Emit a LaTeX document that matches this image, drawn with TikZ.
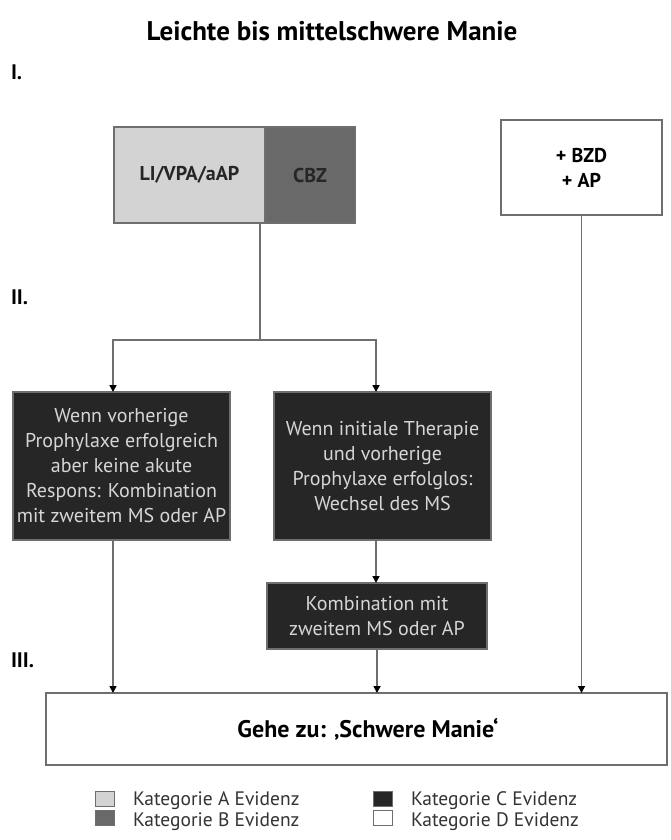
\documentclass[tikz,border=0pt]{standalone}
\usepackage{fontspec}
\setmainfont{PT Sans}
\usetikzlibrary{arrows.meta,calc}
\definecolor{lineg}{HTML}{6E6E6E}
\definecolor{boxA}{HTML}{D3D3D3}
\definecolor{boxB}{HTML}{696969}
\definecolor{boxC}{HTML}{262626}
\definecolor{txtC}{HTML}{D6D6D6}
\begin{document}
\begin{tikzpicture}[x=1pt,y=-1pt,
  every node/.style={inner sep=0pt,outer sep=0pt},
  conn/.style={draw=lineg,line width=1.6pt},
  arr/.style={conn,-{Triangle[length=7pt,width=7pt,fill=black,color=black]}},
  lightbox/.style={draw=lineg,line width=1.6pt,fill=boxA,minimum height=96pt,font=\bfseries\fontsize{20}{24}\selectfont,text=black!85},
  midbox/.style={draw=lineg,line width=1.6pt,fill=boxB,minimum height=96pt,font=\bfseries\fontsize{20}{24}\selectfont,text=black!85},
  whitebox/.style={draw=lineg,line width=1.6pt,fill=white,font=\bfseries\fontsize{20}{25}\selectfont,align=center},
  darkbox/.style={draw=lineg,line width=1.2pt,fill=boxC,text=txtC,align=center,font=\fontsize{20}{25}\selectfont},
  level/.style={font=\bfseries\fontsize{21}{24}\selectfont,anchor=west},
  legsq/.style={draw=lineg,line width=1pt,minimum width=19pt,minimum height=15pt},
  legtxt/.style={anchor=west,font=\fontsize{19.5}{22}\selectfont,text=black!80}
]
\useasboundingbox (0,0) rectangle (670,840);
\fill[white] (0,0) rectangle (670,840);

\node[font=\bfseries\fontsize{27}{30}\selectfont] (title) at (332,31) {Leichte bis mittelschwere Manie};
\node[level] (l1) at (11,72) {I.};
\node[level] (l2) at (11,297) {II.};
\node[level] (l3) at (11,660) {III.};

\node[lightbox,minimum width=151pt] (li) at (189.5,175) {LI/VPA/aAP};
\node[midbox,minimum width=90pt] (cbz) at (310,175) {CBZ};
\node[whitebox,minimum width=161pt,minimum height=95pt] (bzd) at (581.5,167.5) {+ BZD\\+ AP};

\node[darkbox,minimum width=217pt,minimum height=148pt] (left) at (121.5,466)
  {Wenn vorherige\\Prophylaxe erfolgreich\\aber keine akute\\Respons: Kombination\\mit zweitem MS oder AP};
\node[darkbox,minimum width=217pt,minimum height=148pt] (mid) at (382.5,466)
  {Wenn initiale Therapie\\und vorherige\\Prophylaxe erfolglos:\\Wechsel des MS};
\node[darkbox,minimum width=220pt,minimum height=66pt] (small) at (377,616)
  {Kombination mit\\zweitem MS oder AP};

\node[whitebox,minimum width=621pt,minimum height=72pt,font=\bfseries\fontsize{24}{28}\selectfont] (bot) at (356.5,729)
  {\hspace*{23pt}Gehe zu: ‚Schwere Manie‘};

% connectors
\coordinate (start) at ([xshift=-5pt]li.south east);
\coordinate (j) at ($(start)+(0,117)$);
\draw[conn] (start) -- (j);
\draw[arr] (j) -| ([xshift=-8.5pt]left.north);
\draw[arr] (j) -| ([xshift=-6.5pt]mid.north);
\draw[arr] ([xshift=-6.5pt]mid.south) -- ([xshift=-6.5pt]mid.south |- small.north);
\draw[arr] ([xshift=-8.5pt]left.south) -- ([xshift=-8.5pt]left.south |- bot.north);
\draw[arr] (small.south) -- (small.south |- bot.north);
\draw[arr] (bzd.south) -- (bzd.south |- bot.north);

% legend
\node[legsq,fill=boxA] (sqA) at (105,799) {};
\node[legsq,fill=boxB] (sqB) at (105,818) {};
\node[legsq,fill=boxC] (sqC) at (383,799) {};
\node[legsq,fill=white] (sqD) at (383,818) {};
\node[legtxt] (tA) at (133,801) {Kategorie A Evidenz};
\node[legtxt] (tB) at (133,822) {Kategorie B Evidenz};
\node[legtxt] (tC) at (411,801) {Kategorie C Evidenz};
\node[legtxt] (tD) at (411,822) {Kategorie D Evidenz};
\end{tikzpicture}
\end{document}
